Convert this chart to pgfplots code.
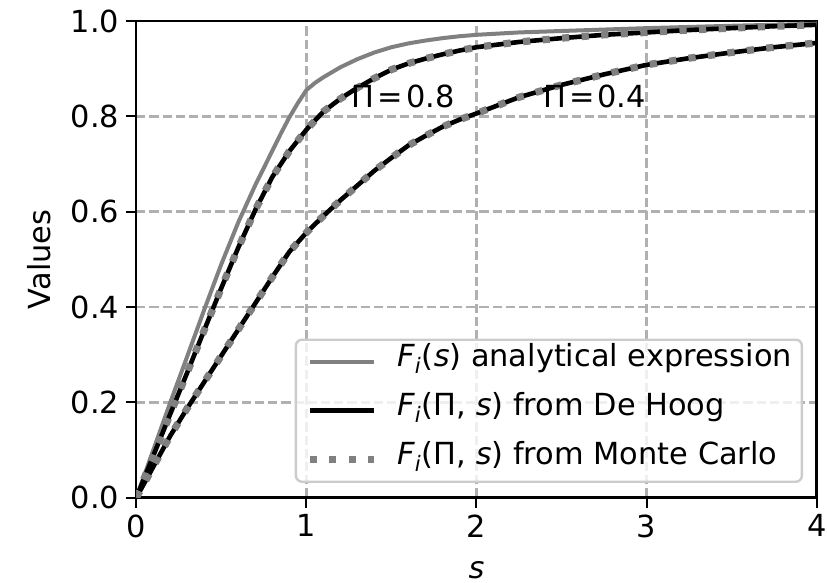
\documentclass[border=0pt]{standalone}
\usepackage{pgfplots}
\pgfplotsset{compat=1.18}
\usepackage{pgfplotstable}
\usepackage{fontspec}
\setmainfont{DejaVu Sans}
\definecolor{curvegray}{HTML}{808080}
\definecolor{gridgray}{HTML}{B0B0B0}
\definecolor{legedge}{HTML}{CCCCCC}

\pgfplotstableread{
s y
0 0
0.1 0.100
0.2 0.200
0.3 0.297
0.4 0.395
0.5 0.490
0.6 0.578
0.7 0.656
0.8 0.728
0.85 0.764
0.9 0.798
0.95 0.828
1.0 0.855
1.05 0.870
1.1 0.882
1.2 0.903
1.3 0.920
1.4 0.934
1.5 0.945
1.6 0.953
1.7 0.959
1.8 0.964
1.9 0.968
2.0 0.971
2.25 0.976
2.5 0.979
2.75 0.982
3.0 0.985
3.5 0.990
4.0 0.994
}\analytical

\pgfplotstableread{
s y
0 0
0.1 0.088
0.2 0.176
0.3 0.263
0.4 0.352
0.5 0.440
0.6 0.525
0.7 0.604
0.8 0.673
0.9 0.727
1.0 0.772
1.1 0.810
1.2 0.837
1.3 0.860
1.4 0.880
1.5 0.898
1.6 0.911
1.7 0.921
1.8 0.930
1.9 0.938
2.0 0.945
2.25 0.956
2.5 0.964
2.75 0.971
3.0 0.976
3.25 0.981
3.5 0.985
3.75 0.989
4.0 0.992
}\pieight

\pgfplotstableread{
s y
0 0
0.1 0.065
0.2 0.130
0.3 0.188
0.4 0.243
0.5 0.298
0.6 0.353
0.7 0.408
0.8 0.463
0.9 0.516
1.0 0.556
1.1 0.591
1.2 0.624
1.3 0.655
1.4 0.686
1.5 0.713
1.6 0.739
1.7 0.759
1.8 0.778
1.9 0.793
2.0 0.806
2.25 0.840
2.5 0.866
2.75 0.888
3.0 0.908
3.25 0.922
3.5 0.934
3.75 0.945
4.0 0.954
}\pifour

\begin{document}
\begin{tikzpicture}[font=\fontsize{15.2}{18}\selectfont]
\useasboundingbox (-68.15pt,-42.65pt) rectangle (345.35pt,248.85pt);
\begin{axis}[
  at={(0pt,0pt)}, anchor=south west,
  scale only axis,
  width=340.2pt, height=238.35pt,
  xmin=0, xmax=4, ymin=0, ymax=1,
  xtick={0,1,2,3,4},
  ytick={0,0.2,0.4,0.6,0.8,1.0},
  /pgf/number format/assume math mode=true,
  yticklabel style={/pgf/number format/.cd, fixed, fixed zerofill, precision=1},
  tick pos=left,
  tick align=outside,
  major tick length=5pt,
  every tick/.style={black, line width=1pt},
  axis line style={black, line width=1.2pt},
  grid=major,
  major grid style={gridgray, line width=1.2pt, dash pattern=on 4.6pt off 2pt},
  xlabel={\textit{s}},
  ylabel={Values},
  every axis x label/.style={at={(axis description cs:0.5,-0.152)}, anchor=center},
  every axis y label/.style={at={(axis description cs:-0.143,0.5)}, rotate=90, anchor=center},
  legend cell align=left,
  legend image code/.code={\draw[#1] (0pt,0pt) -- (32pt,0pt);},
  legend style={
    at={(0.98,0.031)}, anchor=south east,
    draw=legedge, line width=1.2pt, rounded corners=3pt,
    fill=white, fill opacity=0.8, text opacity=1,
    inner xsep=5pt, inner ysep=6pt,
    row sep=14.5pt, column sep=10pt,
    nodes={inner sep=0pt, text height=0.76em, text depth=0.24em},
  },
]
\addplot[curvegray, line width=2pt] table[x=s,y=y] {\analytical};
\addlegendentry{\textit{F}\textsubscript{\textit{i}}(\textit{s}) analytical expression}
\addplot[black, line width=2.3pt] table[x=s,y=y] {\pieight};
\addlegendentry{\textit{F}\textsubscript{\textit{i}}(Π, \textit{s}) from De Hoog}
\addplot[black, line width=2.3pt, forget plot] table[x=s,y=y] {\pifour};
\addplot[curvegray, line width=3.6pt, dash pattern=on 3.6pt off 6.2pt] table[x=s,y=y] {\pieight};
\addlegendentry{\textit{F}\textsubscript{\textit{i}}(Π, \textit{s}) from Monte Carlo}
\addplot[curvegray, line width=3.6pt, dash pattern=on 3.6pt off 6.2pt, forget plot] table[x=s,y=y] {\pifour};
\node[anchor=base west, inner sep=0pt] at (axis cs:1.265,0.818) {Π\hspace{0.1em}=\hspace{0.1em}0.8};
\node[anchor=base west, inner sep=0pt] at (axis cs:2.39,0.818) {Π\hspace{0.1em}=\hspace{0.1em}0.4};
\end{axis}
\end{tikzpicture}
\end{document}
